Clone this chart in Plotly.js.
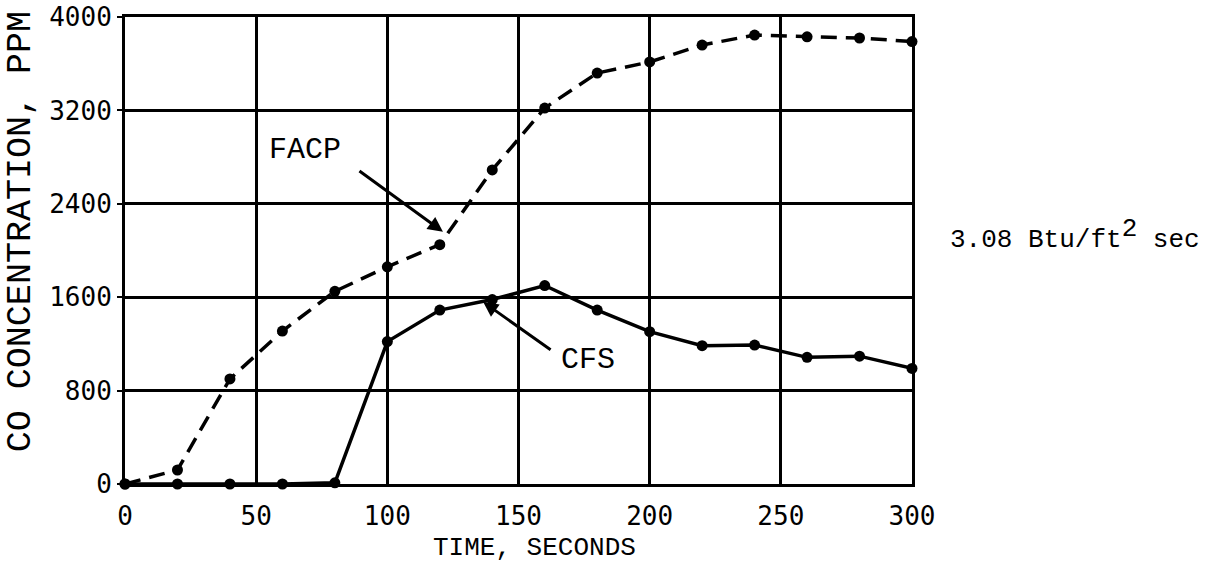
<!DOCTYPE html>
<html>
<head>
<meta charset="utf-8">
<script src="https://cdn.plot.ly/plotly-3.0.1.min.js"></script>
<style>html,body{margin:0;padding:0;background:#fff;}#chart{width:1222px;height:565px;}</style>
</head>
<body>
<div id="chart"></div>
<script>
const timeSeconds = [0, 20, 40, 60, 80, 100, 120, 140, 160, 180, 200, 220, 240, 260, 280, 300];
const facpPPM = [0, 120, 900, 1310, 1650, 1860, 2050, 2690, 3220, 3520, 3615, 3760, 3845, 3830, 3820, 3790];
const cfsPPM  = [0, 0, 0, 0, 10, 1220, 1490, 1580, 1700, 1490, 1305, 1185, 1190, 1085, 1095, 990];
const xTicks = [0, 50, 100, 150, 200, 250, 300];
const yTicks = [0, 800, 1600, 2400, 3200, 4000];

const mono = "Liberation Mono, Courier New, monospace";
const tickFont = "DejaVu Sans Mono, monospace";

const traces = [
  {x: timeSeconds, y: facpPPM, mode: 'lines+markers', name: 'FACP',
   line: {color: '#000', width: 3.5, dash: '16px,9px'},
   marker: {color: '#000', size: 11}, cliponaxis: false},
  {x: timeSeconds, y: cfsPPM, mode: 'lines+markers', name: 'CFS',
   line: {color: '#000', width: 3.5},
   marker: {color: '#000', size: 11}, cliponaxis: false}
];

const layout = {
  width: 1222, height: 565,
  margin: {l: 125, r: 310, t: 17, b: 81},
  paper_bgcolor: '#fff', plot_bgcolor: '#fff',
  showlegend: false,
  xaxis: {
    range: [0, 300], tickvals: xTicks, ticktext: xTicks.map(String),
    showgrid: true, gridcolor: '#000', gridwidth: 3,
    showline: true, linecolor: '#000', linewidth: 3, mirror: true,
    zeroline: false, ticks: '', ticklabelstandoff: 7,
    tickfont: {family: tickFont, size: 26, color: '#000'}
  },
  yaxis: {
    range: [0, 4000], tickvals: yTicks, ticktext: yTicks.map(String),
    showgrid: true, gridcolor: '#000', gridwidth: 3,
    showline: true, linecolor: '#000', linewidth: 3, mirror: true,
    zeroline: false, ticks: 'outside', ticklen: 5, tickwidth: 2, tickcolor: '#000',
    tickfont: {family: tickFont, size: 26, color: '#000'}
  },
  annotations: [
    {x: 0.52, y: -0.137, xref: 'paper', yref: 'paper', xanchor: 'center', yanchor: 'middle',
     text: 'TIME, SECONDS', showarrow: false, font: {family: mono, size: 26, color: '#000'}},
    {x: -0.133, y: 0.54, xref: 'paper', yref: 'paper', xanchor: 'center', yanchor: 'middle',
     text: 'CO CONCENTRATION, PPM', textangle: -90, showarrow: false,
     font: {family: mono, size: 35, color: '#000'}},
    {x: 68.6, y: 2860, xref: 'x', yref: 'y', text: 'FACP', showarrow: false,
     font: {family: mono, size: 30, color: '#000'}},
    {x: 121.2, y: 2160, xref: 'x', yref: 'y', ax: 88.8, ay: 2690, axref: 'x', ayref: 'y',
     text: '', showarrow: true, arrowhead: 2, arrowsize: 1, arrowwidth: 3, arrowcolor: '#000'},
    {x: 176.5, y: 1062, xref: 'x', yref: 'y', text: 'CFS', showarrow: false,
     font: {family: mono, size: 30, color: '#000'}},
    {x: 136.5, y: 1560, xref: 'x', yref: 'y', ax: 162.8, ay: 1140, axref: 'x', ayref: 'y',
     text: '', showarrow: true, arrowhead: 2, arrowsize: 1, arrowwidth: 3, arrowcolor: '#000'},
    {x: 1.046, y: 0.535, xref: 'paper', yref: 'paper', xanchor: 'left', yanchor: 'middle',
     text: "3.08 Btu/ft<sup><span style='font-size:26px'>2</span></sup> sec", showarrow: false,
     font: {family: mono, size: 26, color: '#000'}}
  ]
};

Plotly.newPlot('chart', traces, layout, {displayModeBar: false, staticPlot: true});
</script>
</body>
</html>
